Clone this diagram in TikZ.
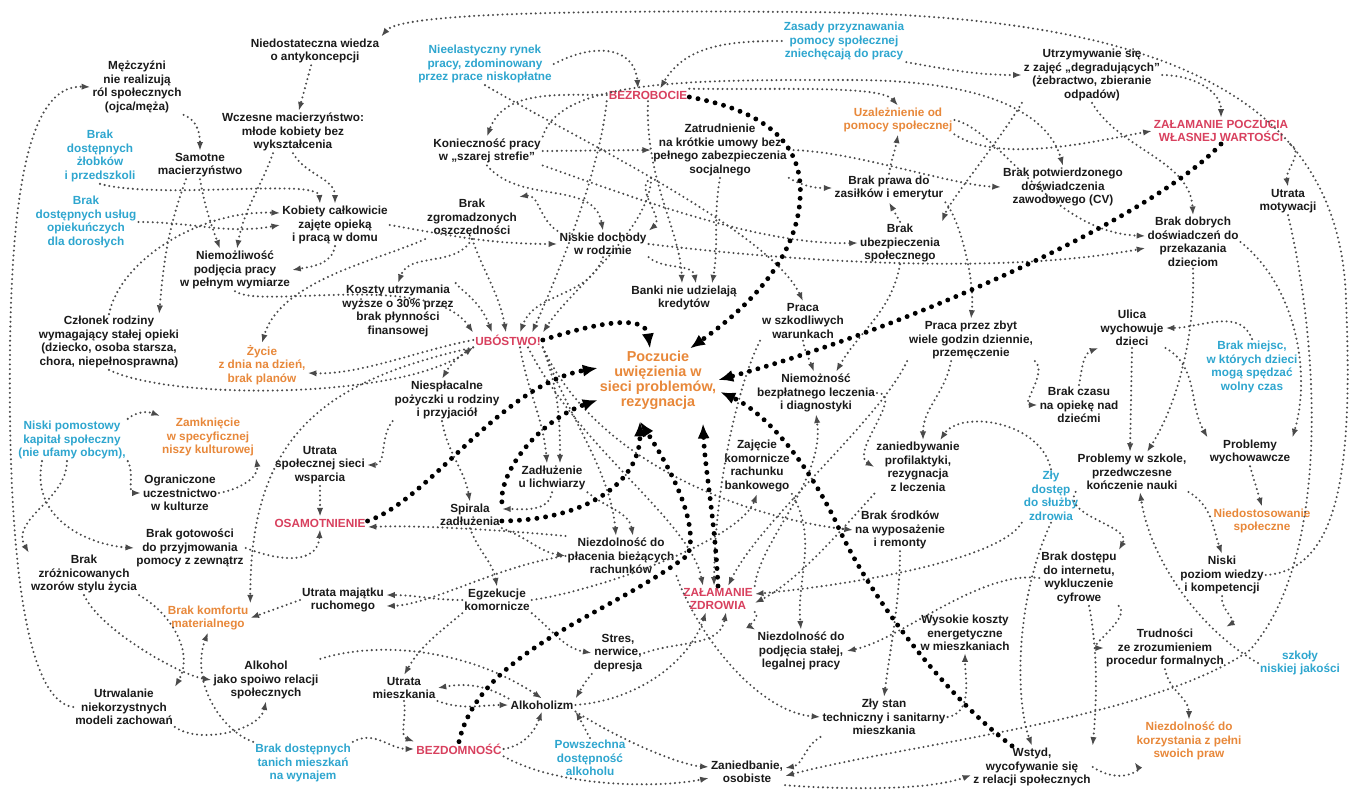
\documentclass[tikz,border=0pt]{standalone}
\usepackage{fontspec}
\setmainfont{Liberation Sans}
\usetikzlibrary{arrows.meta, calc, positioning}
\definecolor{txt}{HTML}{1A1A1A}
\definecolor{cblue}{HTML}{2EA6CF}
\definecolor{corange}{HTML}{E8883A}
\definecolor{cred}{HTML}{D8405E}
\definecolor{cdot}{HTML}{4A4A4A}

\begin{document}
\begin{tikzpicture}[x=0.02cm, y=-0.02cm,
  every node/.style={align=center, inner sep=1pt, text=txt,
    font=\bfseries\fontsize{6.7}{7.7}\selectfont},
  blu/.style={text=cblue},
  ora/.style={text=corange},
  hot/.style={text=cred},
  big/.style={font=\bfseries\fontsize{8.2}{8.6}\selectfont},
  ln/.style={draw=cdot, line width=1.3pt, line cap=round,
    dash pattern=on 0pt off 2.7pt, -{Latex[length=5pt,width=3.6pt]}},
  thk/.style={draw=black, line width=2.8pt, line cap=round,
    dash pattern=on 0pt off 5pt, -{Latex[length=8.5pt,width=7pt]}}]

\useasboundingbox (0,0) rectangle (1354,790);
\fill[white] (0,0) rectangle (1354,790);

% left column
\node (meski) at (137,87) {Mężczyźni\\nie realizują\\ról społecznych\\(ojca/męża)};
\node (antykonc) at (315,51) {Niedostateczna wiedza\\o antykoncepcji};
\node (wczesne) at (293,132) {Wczesne macierzyństwo:\\młode kobiety bez\\wykształcenia};
\node[blu] (zlobki) at (100,156) {Brak\\dostępnych\\żłobków\\i przedszkoli};
\node (samotne) at (200,165) {Samotne\\macierzyństwo};
\node[blu] (uslug) at (86,222) {Brak\\dostępnych usług\\opiekuńczych\\dla dorosłych};
\node (kobiety) at (335,225) {Kobiety całkowicie\\zajęte opieką\\i pracą w domu};
\node (niemoz) at (235,270) {Niemożliwość\\podjęcia pracy\\w pełnym wymiarze};
\node (czlonek) at (109,342) {Członek rodziny\\wymagający stałej opieki\\(dziecko, osoba starsza,\\chora, niepełnosprawna)};
\node[ora] (zycie) at (262,365) {Życie\\z dnia na dzień,\\brak planów};
\node (koszty) at (398,311) {Koszty utrzymania\\wyższe o 30\% przez\\brak płynności\\finansowej};
\node[blu] (niski) at (72,440) {Niski pomostowy\\kapitał społeczny\\(nie ufamy obcym),};
\node[ora] (zamk) at (208,437) {Zamknięcie\\w specyficznej\\niszy kulturowej};
\node (ogranicz) at (180,493) {Ograniczone\\uczestnictwo\\w kulturze};
\node (utrsieci) at (320,465) {Utrata\\społecznej sieci\\wsparcia};
\node[hot] (osamot) at (320,523) {OSAMOTNIENIE};
\node (gotow) at (190,548) {Brak gotowości\\do przyjmowania\\pomocy z zewnątrz};
\node (zroz) at (84,574) {Brak\\zróżnicowanych\\wzorów stylu życia};
\node[ora] (komfort) at (208,618) {Brak komfortu\\materialnego};
\node (alkohol) at (266,680) {Alkohol\\jako spoiwo relacji\\społecznych};
\node (utrwal) at (124,707) {Utrwalanie\\niekorzystnych\\modeli zachowań};
\node[blu] (tanich) at (303,763) {Brak dostępnych\\tanich mieszkań\\na wynajem};
\node (utrmaj) at (343,600) {Utrata majątku\\ruchomego};

% top and centre
\node[blu] (nieelast) at (485,64) {Nieelastyczny rynek\\pracy, zdominowany\\przez prace niskopłatne};
\node[hot] (bezrob) at (648,95) {BEZROBOCIE};
\node (koniecz) at (487,151) {Konieczność pracy\\w „szarej strefie”};
\node (zgrom) at (472,218) {Brak\\zgromadzonych\\oszczędności};
\node (niskie) at (603,244) {Niskie dochody\\w rodzinie};
\node (zatrud) at (720,150) {Zatrudnienie\\na krótkie umowy bez\\pełnego zabezpieczenia\\socjalnego};
\node[blu] (zasady) at (844,41) {Zasady przyznawania\\pomocy społecznej\\zniechęcają do pracy};
\node[ora] (uzalez) at (898,120) {Uzależnienie od\\pomocy społecznej};
\node (prawa) at (889,188) {Brak prawa do\\zasiłków i emerytur};
\node (ubezp) at (900,243) {Brak\\ubezpieczenia\\społecznego};
\node (banki) at (684,298) {Banki nie udzielają\\kredytów};
\node[hot] (ubostwo) at (508,340) {UBÓSTWO!};
\node[ora, big] (poczucie) at (658,380) {Poczucie\\uwięzienia w\\sieci problemów,\\rezygnacja};
\node (niesplac) at (447,400) {Niespłacalne\\pożyczki u rodziny\\i przyjaciół};
\node (zadluz) at (552,478) {Zadłużenie\\u lichwiarzy};
\node (spirala) at (470,515) {Spirala\\zadłużenia};
\node (szkodl) at (803,321) {Praca\\w szkodliwych\\warunkach};
\node (leczenie) at (816,393) {Niemożność\\bezpłatnego leczenia\\i diagnostyki};
\node (zajecie) at (757,466) {Zajęcie\\komornicze\\rachunku\\bankowego};
\node (niezpl) at (621,556) {Niezdolność do\\płacenia bieżących\\rachunków};
\node (egzek) at (497,600) {Egzekucje\\komornicze};
\node (stres) at (618,653) {Stres,\\nerwice,\\depresja};
\node (utrmiesz) at (404,688) {Utrata\\mieszkania};
\node (alkoholizm) at (542,705) {Alkoholizm};
\node[hot] (bezdom) at (459,749) {BEZDOMNOŚĆ};
\node[blu] (powsz) at (590,758) {Powszechna\\dostępność\\alkoholu};
\node[hot] (zdrowie) at (718,599) {ZAŁAMANIE\\ZDROWIA};
\node (stala) at (801,651) {Niezdolność do\\podjęcia stałej,\\legalnej pracy};
\node (zaniedb) at (747,772) {Zaniedbanie,\\osobiste};

% right part
\node (utrzym) at (1092,75) {Utrzymywanie się\\z zajęć „degradujących”\\(żebractwo, zbieranie\\odpadów)};
\node[hot] (zalam) at (1221,131) {ZAŁAMANIE POCZUCIA\\WŁASNEJ WARTOŚCI};
\node (potw) at (1063,187) {Brak potwierdzonego\\doświadczenia\\zawodowego (CV)};
\node (motyw) at (1288,201) {Utrata\\motywacji};
\node (dobrych) at (1193,242) {Brak dobrych\\doświadczeń do\\przekazania\\dzieciom};
\node (zbytwiele) at (971,340) {Praca przez zbyt\\wiele godzin dziennie,\\przemęczenie};
\node (profil) at (918,467) {zaniedbywanie\\profilaktyki,\\rezygnacja\\z leczenia};
\node (wyposaz) at (900,530) {Brak środków\\na wyposażenie\\i remonty};
\node (ulica) at (1132,328) {Ulica\\wychowuje\\dzieci};
\node (czas) at (1079,405) {Brak czasu\\na opiekę nad\\dziećmi};
\node[blu] (miejsc) at (1252,367) {Brak miejsc,\\w których dzieci\\mogą spędzać\\wolny czas};
\node (szkola) at (1132,472) {Problemy w szkole,\\przedwczesne\\kończenie nauki};
\node (wych) at (1250,452) {Problemy\\wychowawcze};
\node[blu] (zly) at (1051,496) {Zły\\dostęp\\do służby\\zdrowia};
\node[ora] (niedost) at (1262,521) {Niedostosowanie\\społeczne};
\node (energ) at (965,633) {Wysokie koszty\\energetyczne\\w mieszkaniach};
\node (stan) at (884,717) {Zły stan\\techniczny i sanitarny\\mieszkania};
\node (wstyd) at (1032,767) {Wstyd,\\wycofywanie się\\z relacji społecznych};
\node (internet) at (1079,578) {Brak dostępu\\do internetu,\\wykluczenie\\cyfrowe};
\node (wiedza) at (1222,575) {Niski\\poziom wiedzy\\i kompetencji};
\node (trudn) at (1165,648) {Trudności\\ze zrozumieniem\\procedur formalnych};
\node[blu] (szkoly) at (1300,663) {szkoły\\niskiej jakości};
\node[ora] (prawapelni) at (1189,741) {Niezdolność do\\korzystania z pełni\\swoich praw};

% long arcs round the edge
\draw[ln] (wiedza.east) .. controls (1345,570) and (1352,450) .. (1346,300) .. controls (1340,90) and (1150,14) .. (800,12) .. controls (560,10) and (400,14) .. (antykonc.north east);
\draw[ln] (utrwal.west) .. controls (20,700) and (8,520) .. (10,350) .. controls (12,150) and (40,85) .. (meski.west);
\draw[ln] (motyw.south) .. controls (1320,350) and (1330,560) .. (1250,650) .. controls (1150,720) and (900,745) .. ($(zaniedb.east)+(0,4)$);

% left column
\draw[ln] (antykonc) -- (wczesne);
\draw[ln] (meski.south east) to[out=-20,in=90] (samotne.north);
\draw[ln] (zlobki.south) .. controls (160,200) and (318,178) .. ($(kobiety.north)+(-15,0)$);
\draw[ln] (wczesne.south) to[out=-60,in=90] (kobiety.north);
\draw[ln] (uslug.east) to[out=0,in=190] (kobiety.west);
\draw[ln] (czlonek.north) .. controls (120,260) and (200,210) .. ($(kobiety.west)+(0,-12)$);
\draw[ln] (samotne.south) to[out=-80,in=110] ($(niemoz.north)+(-15,0)$);
\draw[ln] ($(wczesne.south)+(-20,0)$) to[out=-110,in=80] ($(niemoz.north)+(2,0)$);
\draw[ln] ($(samotne.south)+(-14,0)$) to[out=-110,in=85] ($(czlonek.north east)+(-22,0)$);
\draw[ln] (czlonek.south) .. controls (170,400) and (400,400) .. (ubostwo.south west);
\draw[ln] (ubostwo.west) .. controls (420,350) and (360,375) .. ($(zycie.east)+(0,8)$);
\draw[ln] (zgrom.south west) .. controls (380,260) and (280,280) .. (zycie.north);
\draw[ln] (zgrom.south) to[out=-120,in=70] (koszty.north);
\draw[ln] (niemoz.south) .. controls (260,310) and (430,270) .. (ubostwo.north west);
\draw[ln] (kobiety.south) to[out=-100,in=10] (niemoz.east);
\draw[ln] (kobiety.east) to[out=-10,in=180] (niskie.west);
\draw[ln] (niski.north east) to[out=40,in=160] (zamk.north west);
\draw[ln] (niski.south east) to[out=-60,in=180] (ogranicz.west);
\draw[ln] (ogranicz.east) to[out=10,in=-80] (zamk.south east);
\draw[ln] ($(niski.south)+(-5,0)$) to[out=-90,in=120] (zroz.north west);
\draw[ln] ($(niski.south)+(-30,0)$) .. controls (30,520) and (90,545) .. (gotow.west);
\draw[ln] (gotow.east) .. controls (290,565) and (318,560) .. (osamot.south);
\draw[ln] (utrsieci) -- (osamot);
\draw[ln] (zroz.south) .. controls (100,630) and (180,675) .. (alkohol.west);
\draw[ln] (zroz.south east) to[out=-30,in=60] (utrwal.north east);
\draw[ln] (utrwal.south east) .. controls (200,745) and (260,730) .. (alkohol.south);
\draw[ln] (tanich.north west) .. controls (220,730) and (190,680) .. (komfort.south);
\draw[ln] (utrmaj.west) -- (komfort.east);
\draw[ln] (ubostwo.south west) .. controls (330,380) and (250,430) .. (komfort.north east);

% top
\draw[ln] (nieelast.east) .. controls (600,40) and (635,50) .. ($(bezrob.north)+(-10,0)$);
\draw[ln] (zasady.west) to[out=180,in=60] ($(bezrob.north)+(12,0)$);
\draw[ln] (zasady.south east) to[out=-10,in=180] (utrzym.west);
\draw[ln] (bezrob.west) to[out=180,in=70] (koniecz.north);
\draw[ln] (nieelast.south) .. controls (560,130) and (770,230) .. (szkodl.north);
\draw[ln] (koniecz.east) -- (zatrud.west);
\draw[ln] (koniecz.south east) .. controls (640,200) and (760,245) .. (ubezp.west);
\draw[ln] (koniecz.south) to[out=-50,in=100] (niskie.north);
\draw[ln] (niskie.north west) to[out=150,in=10] (zgrom.north east);
\draw[ln] (koniecz.north east) .. controls (560,78) and (700,80) .. (850,80) .. controls (1000,80) and (1050,120) .. (potw.north);
\draw[ln] (zatrud.east) .. controls (850,150) and (950,185) .. (potw.west);
\draw[ln] (zatrud.south east) to[out=-30,in=180] (prawa.west);
\draw[ln] (zatrud.south west) to[out=-150,in=40] (niskie.north east);
\draw[ln] (bezrob.south) .. controls (645,180) and (680,230) .. ($(banki.north)+(-2,0)$);
\draw[ln] (zatrud.south) to[out=-100,in=80] ($(banki.north)+(28,0)$);
\draw[ln] (niskie.south east) to[out=-40,in=100] ($(banki.north)+(12,0)$);
\draw[ln] (bezrob.south west) .. controls (600,170) and (560,270) .. ($(ubostwo.north)+(24,0)$);
\draw[ln] (niskie.south) to[out=-110,in=70] ($(ubostwo.north)+(12,0)$);
\draw[ln] (zgrom.south) to[out=-70,in=100] ($(ubostwo.north)+(-2,0)$);
\draw[ln] (koszty.north east) .. controls (460,290) and (480,300) .. ($(ubostwo.north)+(-16,0)$);
\draw[ln] (zatrud.south west) .. controls (650,230) and (570,290) .. (ubostwo.north east);
\draw[ln] (bezrob.north east) .. controls (780,90) and (880,85) .. (uzalez.north);
\draw[ln] (prawa.north) to[out=80,in=-100] (uzalez.south);
\draw[ln] (ubezp.north) -- (prawa.south);
\draw[ln] (utrzym.south west) .. controls (1000,140) and (950,200) .. (ubezp.north east);
\draw[ln] (prawa.south east) .. controls (960,220) and (975,280) .. (zbytwiele.north);

% centre
\draw[ln] (ubostwo.south west) to[out=-150,in=60] ($(niesplac.north)+(-5,0)$);
\draw[ln] (niesplac.south west) to[out=-130,in=0] (utrsieci.east);
\draw[ln] ($(niesplac.south)+(-5,0)$) to[out=-80,in=100] (spirala.north);
\draw[ln] ($(ubostwo.south)+(12,0)$) to[out=-80,in=95] ($(zadluz.north)+(-5,0)$);
\draw[ln] (ubostwo.south east) to[out=-70,in=90] ($(zadluz.north)+(8,0)$);
\draw[ln] (zadluz.south) to[out=-100,in=0] ($(spirala.east)+(0,-6)$);
\draw[ln] (ubostwo.south east) .. controls (570,420) and (610,470) .. ($(niezpl.north)+(-5,0)$);
\draw[ln] (zadluz.south east) to[out=-40,in=100] ($(niezpl.north)+(12,0)$);
\draw[ln] (ubostwo.south east) .. controls (600,470) and (760,520) .. (wyposaz.west);
\draw[ln] ($(ubostwo.south)+(20,0)$) .. controls (580,450) and (690,520) .. ($(zdrowie.north)+(-15,0)$);
\draw[ln] (szkodl.south west) .. controls (740,380) and (715,480) .. ($(zdrowie.north)+(-4,0)$);
\draw[ln] (zbytwiele.south west) .. controls (880,420) and (760,520) .. ($(zdrowie.north)+(10,0)$);
\draw[ln] (ubezp.south) to[out=-100,in=60] ($(leczenie.north)+(20,0)$);
\draw[ln] (szkodl.south) to[out=-80,in=110] ($(leczenie.north)+(-2,0)$);
\draw[ln] (zdrowie.north east) .. controls (760,540) and (825,480) .. (leczenie.south);
\draw[ln] (leczenie.east) to[out=0,in=150] (profil.west);
\draw[ln] (spirala.south) to[out=-70,in=100] (egzek.north);
\draw[ln] (spirala.south east) to[out=-20,in=170] (niezpl.west);
\draw[ln] (niezpl.north west) .. controls (500,530) and (420,525) .. ($(osamot.east)+(0,4)$);
\draw[ln] (egzek.east) .. controls (600,590) and (740,540) .. (zajecie.south);
\draw[ln] (egzek.south east) to[out=-40,in=170] (stres.west);
\draw[ln] (egzek.south west) to[out=-140,in=60] (utrmiesz.north);
\draw[ln] (egzek.west) to[out=180,in=0] ($(utrmaj.east)+(0,-5)$);
\draw[ln] (niezpl.west) .. controls (500,565) and (430,605) .. ($(utrmaj.east)+(0,6)$);
\draw[ln] (stres.south west) to[out=-130,in=60] (alkoholizm.north east);
\draw[ln] (utrmiesz.south east) to[out=-20,in=180] (alkoholizm.west);
\draw[ln] (alkoholizm.north west) to[out=150,in=10] (utrmiesz.east);
\draw[ln] (utrmiesz.south) to[out=-80,in=160] (bezdom.north west);
\draw[ln] (tanich.north east) to[out=30,in=180] (bezdom.west);
\draw[ln] (bezdom.east) to[out=10,in=-110] (alkoholizm.south);
\draw[ln] (powsz.north) to[out=120,in=-60] (alkoholizm.south east);
\draw[ln] (alkohol.north east) .. controls (380,640) and (470,650) .. (alkoholizm.north);
\draw[ln] (alkoholizm.east) .. controls (640,700) and (690,660) .. ($(zdrowie.south)+(-12,0)$);
\draw[ln] (stres.east) to[out=20,in=-100] ($(zdrowie.south)+(8,0)$);
\draw[ln] (zajecie.south east) to[out=-60,in=95] (stala.north);
\draw[ln] (zdrowie.south east) to[out=-20,in=150] (stala.north west);
\draw[ln] (niezpl.south east) .. controls (700,640) and (760,712) .. (stan.west);
\draw[ln] (alkoholizm.south east) .. controls (620,740) and (680,765) .. ($(zaniedb.west)+(0,-5)$);
\draw[ln] (bezdom.south east) .. controls (560,788) and (660,788) .. ($(zaniedb.west)+(0,6)$);

% right part
\draw[ln] ($(zbytwiele.south)+(-20,0)$) to[out=-100,in=90] ($(profil.north)+(5,0)$);
\draw[ln] (zly.north) .. controls (1040,420) and (960,410) .. ($(profil.north)+(22,0)$);
\draw[ln] (profil.south west) .. controls (850,520) and (800,580) .. ($(zdrowie.east)+(0,4)$);
\draw[ln] (zly.south west) .. controls (1000,560) and (850,585) .. ($(zdrowie.east)+(0,-5)$);
\draw[ln] (internet.west) .. controls (980,570) and (900,640) .. (stala.east);
\draw[ln] (wyposaz.south) .. controls (900,600) and (890,650) .. (stan.north);
\draw[ln] (stan.east) to[out=10,in=-90] (energ.south);
\draw[ln] (stan.south west) to[out=-150,in=10] ($(zaniedb.east)+(0,-4)$);
\draw[ln] (zaniedb.south east) .. controls (850,790) and (930,790) .. ($(wstyd.west)+(0,8)$);
\draw[ln] (zly.south) .. controls (1015,600) and (1015,700) .. (wstyd.north);
\draw[ln] ($(internet.south)+(10,0)$) .. controls (1100,660) and (1095,720) .. (wstyd.north east);
\draw[ln] (wstyd.east) .. controls (1120,785) and (1140,770) .. (prawapelni.south west);
\draw[ln] (internet.south east) to[out=-40,in=180] (trudn.west);
\draw[ln] (wiedza.south) to[out=-100,in=30] (trudn.north east);
\draw[ln] (trudn.south) to[out=-80,in=90] (prawapelni.north);
\draw[ln] (szkola.south east) to[out=-30,in=110] (wiedza.north);
\draw[ln] (szkola.south west) to[out=-120,in=60] (internet.north east);
\draw[ln] (szkoly.west) .. controls (1200,630) and (1150,560) .. ($(szkola.south)+(8,0)$);
\draw[ln] (dobrych.south) .. controls (1195,330) and (1180,400) .. ($(szkola.north)+(15,0)$);
\draw[ln] (ulica.south) -- ($(szkola.north)+(-2,0)$);
\draw[ln] (ulica.south east) to[out=-30,in=120] (wych.north west);
\draw[ln] (czas.north) to[out=80,in=200] (ulica.south west);
\draw[ln] (zbytwiele.south east) to[out=-40,in=180] (czas.west);
\draw[ln] (dobrych.east) .. controls (1300,290) and (1310,380) .. (wych.north east);
\draw[ln] (miejsc.north) to[out=110,in=0] (ulica.east);
\draw[ln] (wych.south) -- (niedost.north);
\draw[ln] (utrzym.east) to[out=0,in=90] (zalam.north);
\draw[ln] (utrzym.south) .. controls (1120,150) and (1190,160) .. (dobrych.north);
\draw[ln] (uzalez.south east) .. controls (1000,165) and (1100,140) .. (zalam.west);
\draw[ln] (zalam.south east) to[out=-30,in=100] (motyw.north);
\draw[ln] (uzalez.east) .. controls (1000,130) and (1050,232) .. ($(dobrych.west)+(0,-6)$);
\draw[ln] (niskie.east) .. controls (800,262) and (1000,275) .. ($(dobrych.west)+(0,6)$);

% heavy arrows into the centre
\draw[thk] ($(bezrob.east)+(0,2)$) .. controls (760,110) and (805,140) .. (800,200) .. controls (795,270) and (730,320) .. ($(poczucie.north)+(32,0)$);
\draw[thk] (ubostwo.east) .. controls (590,325) and (645,312) .. ($(poczucie.north)+(-8,0)$);
\draw[thk] (zalam.south) .. controls (1150,220) and (900,330) .. (poczucie.east);
\draw[thk] ($(osamot.east)+(0,-2)$) .. controls (430,500) and (500,385) .. ($(poczucie.west)+(0,-12)$);
\draw[thk] (spirala.north east) .. controls (500,470) and (540,420) .. ($(poczucie.west)+(0,20)$);
\draw[thk] ($(spirala.east)+(0,6)$) .. controls (590,520) and (640,480) .. ($(poczucie.south)+(-18,10)$);
\draw[thk] (bezdom.north) .. controls (480,650) and (610,615) .. (688,555) .. controls (700,520) and (665,460) .. ($(poczucie.south)+(-18,10)$);
\draw[thk] (zdrowie.north) .. controls (715,520) and (705,470) .. ($(poczucie.south)+(45,12)$);
\draw[thk] ($(wstyd.north)+(-20,0)$) .. controls (950,700) and (870,600) .. (835,520) .. controls (800,450) and (760,410) .. ($(poczucie.east)+(2,12)$);
\end{tikzpicture}
\end{document}
